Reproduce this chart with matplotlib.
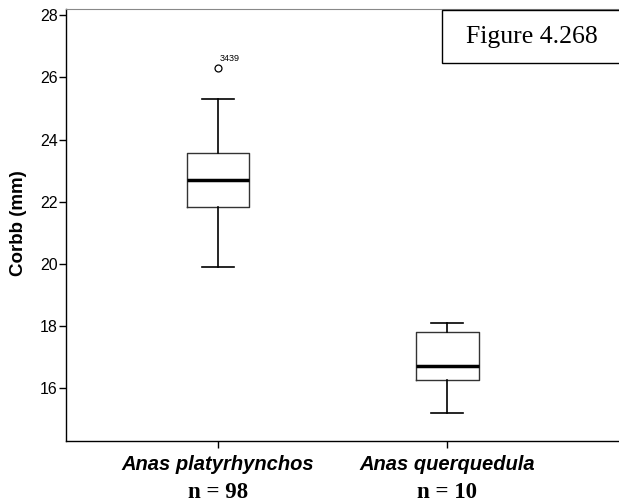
import matplotlib.pyplot as plt
from matplotlib.patches import Rectangle
from matplotlib import transforms

species = ["Anas platyrhynchos", "Anas querquedula"]
counts = [98, 10]
whisker_low = [19.9, 15.2]
q1 = [21.82, 16.25]
median = [22.71, 16.72]
q3 = [23.58, 17.80]
whisker_high = [25.30, 18.10]
outlier_vals = [26.30]
outlier_ids = ["3439"]

stats = []
for i in range(len(species)):
    stats.append({
        "whislo": whisker_low[i], "q1": q1[i], "med": median[i],
        "q3": q3[i], "whishi": whisker_high[i],
        "fliers": outlier_vals if i == 0 else [],
    })

fig = plt.figure(figsize=(6.19, 5.04), dpi=100)
ax = fig.add_axes([0.1066, 0.125, 0.8934, 0.857])

ax.bxp(stats, positions=[1, 2], widths=0.274, showfliers=True,
       boxprops=dict(color="#333333", linewidth=1.0),
       whiskerprops=dict(color="black", linewidth=1.2),
       capprops=dict(color="black", linewidth=1.2),
       medianprops=dict(color="black", linewidth=2.5),
       flierprops=dict(marker="o", markerfacecolor="white", markeredgecolor="black",
                       markersize=5, markeredgewidth=0.9))

ax.text(1.005, outlier_vals[0] + 0.16, outlier_ids[0], fontsize=6.5,
        family="Liberation Sans", ha="left", va="bottom")

ax.set_xlim(0.336, 2.75)
ax.set_ylim(14.3, 28.2)
ax.set_yticks([16, 18, 20, 22, 24, 26, 28])
ax.set_yticklabels(["16", "18", "20", "22", "24", "26", "28"],
                   family="Liberation Sans", fontsize=11.5)
ax.set_xticks([1, 2])
ax.set_xticklabels([])

# category names and sample sizes under the ticks
trans = transforms.blended_transform_factory(ax.transData, fig.transFigure)
for x, s, n in zip([1, 2], species, counts):
    ax.text(x, 1 - 470 / 504, s, transform=trans, family="Liberation Sans",
            fontsize=14.5, fontweight="bold", style="italic",
            ha="center", va="baseline", clip_on=False)
    ax.text(x, 1 - 498 / 504, f"n = {n}", transform=trans, family="Liberation Serif",
            fontsize=16.5, fontweight="bold", ha="center", va="baseline", clip_on=False)

ax.set_ylabel("Corbb (mm)", family="Liberation Sans", fontsize=13.5, fontweight="bold")
ax.yaxis.set_label_coords(-0.0705, 0.505)
ax.tick_params(direction="out", length=5, width=1, pad=1)

ax.spines["top"].set_color("#888888")
ax.spines["right"].set_visible(False)
ax.spines["left"].set_linewidth(1)
ax.spines["bottom"].set_linewidth(1)

# caption box, cut off at the right edge like the original
fig.patches.append(Rectangle((442 / 619, 1 - 63 / 504), 0.4, 53 / 504,
                             transform=fig.transFigure, facecolor="white",
                             edgecolor="black", linewidth=1, zorder=5))
fig.text(532 / 619, 1 - 37 / 504, "Figure 4.268", family="Liberation Serif",
         fontsize=18.5, ha="center", va="center", zorder=6)

fig.savefig("out.png", dpi=100)
plt.close()
